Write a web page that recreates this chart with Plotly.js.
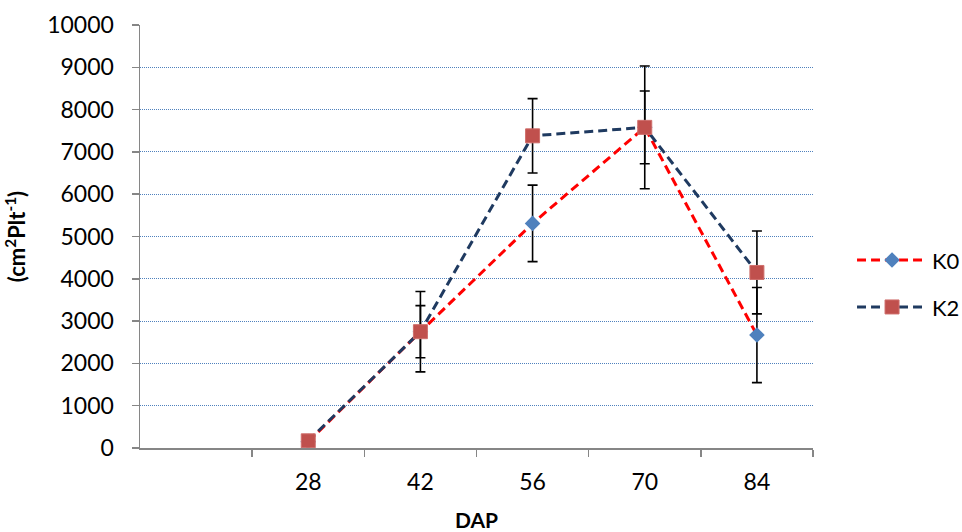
<!DOCTYPE html>
<html>
<head>
<meta charset="utf-8">
<script src="https://cdn.plot.ly/plotly-3.0.1.min.js"></script>
<style>html,body{margin:0;padding:0;background:#fff;}#chart{width:962px;height:532px;}</style>
</head>
<body>
<div id="chart"></div>
<script>
// Data
const dap = ['28', '42', '56', '70', '84'];
const k0 = [150, 2750, 5310, 7580, 2670];
const k0Err = [0, 950, 905, 1450, 1125];
const k2 = [170, 2750, 7380, 7580, 4150];
const k2Err = [0, 615, 880, 860, 980];
const yTicks = [0, 1000, 2000, 3000, 4000, 5000, 6000, 7000, 8000, 9000, 10000];

const FONT = 'Lato, "Open Sans", "DejaVu Sans", sans-serif';

const traces = [
  {
    name: 'K0', x: dap, y: k0, type: 'scatter', mode: 'lines+markers',
    line: {color: '#FF0000', width: 3, dash: '9px,5px'},
    marker: {symbol: 'diamond', size: 12, color: '#4F81BD', line: {width: 0}},
    error_y: {type: 'data', array: k0Err, visible: true, color: '#000000', thickness: 1.6, width: 5},
    legend: 'legend'
  },
  {
    name: 'K2', x: dap, y: k2, type: 'scatter', mode: 'lines+markers',
    line: {color: '#1F3A60', width: 3, dash: '9px,5px'},
    marker: {symbol: 'square', size: 14, color: '#C0504D', line: {width: 1, color: '#CF6E6B'}},
    error_y: {type: 'data', array: k2Err, visible: true, color: '#000000', thickness: 1.6, width: 5},
    legend: 'legend2'
  }
];

const legendBase = {
  xanchor: 'left', yanchor: 'middle', bgcolor: 'rgba(0,0,0,0)',
  font: {family: FONT, size: 22, color: '#000'}, itemwidth: 70
};

const layout = {
  width: 962, height: 532,
  margin: {l: 140, r: 149, t: 25, b: 84, autoexpand: false},
  paper_bgcolor: '#fff', plot_bgcolor: '#fff',
  font: {family: FONT, size: 23, color: '#000'},
  showlegend: true,
  legend: Object.assign({}, legendBase, {x: 1.058, y: 0.444}),
  legend2: Object.assign({}, legendBase, {x: 1.058, y: 0.333}),
  xaxis: {
    type: 'category', categoryorder: 'array', categoryarray: dap,
    range: [-1.5, 4.5], tickson: 'boundaries', automargin: false,
    showline: true, linecolor: '#868686', linewidth: 1.5,
    ticks: 'outside', ticklen: 7, tickcolor: '#868686', tickwidth: 1.5,
    showgrid: false, zeroline: false, ticklabelstandoff: 13,
    tickfont: {family: FONT, size: 23, color: '#000'},
    title: {text: '<b>DAP</b>', font: {family: FONT, size: 21, color: '#000'}, standoff: 22}
  },
  yaxis: {
    range: [0, 10000], tickvals: yTicks, ticktext: yTicks.map(String), automargin: false,
    showline: true, linecolor: '#868686', linewidth: 1.5,
    ticks: 'outside', ticklen: 7, tickcolor: '#868686', tickwidth: 1.5,
    showgrid: true, gridcolor: '#4F81BD', gridwidth: 1, griddash: '1px,1px',
    zeroline: false, ticklabelstandoff: 13,
    tickfont: {family: FONT, size: 23, color: '#000'},
    title: {text: '<b>(cm<sup>2</sup>Plt<sup>-1</sup>)</b>', font: {family: FONT, size: 22, color: '#000'}, standoff: 15}
  }
};

Plotly.newPlot('chart', traces, layout, {displayModeBar: false, staticPlot: true});
</script>
</body>
</html>
